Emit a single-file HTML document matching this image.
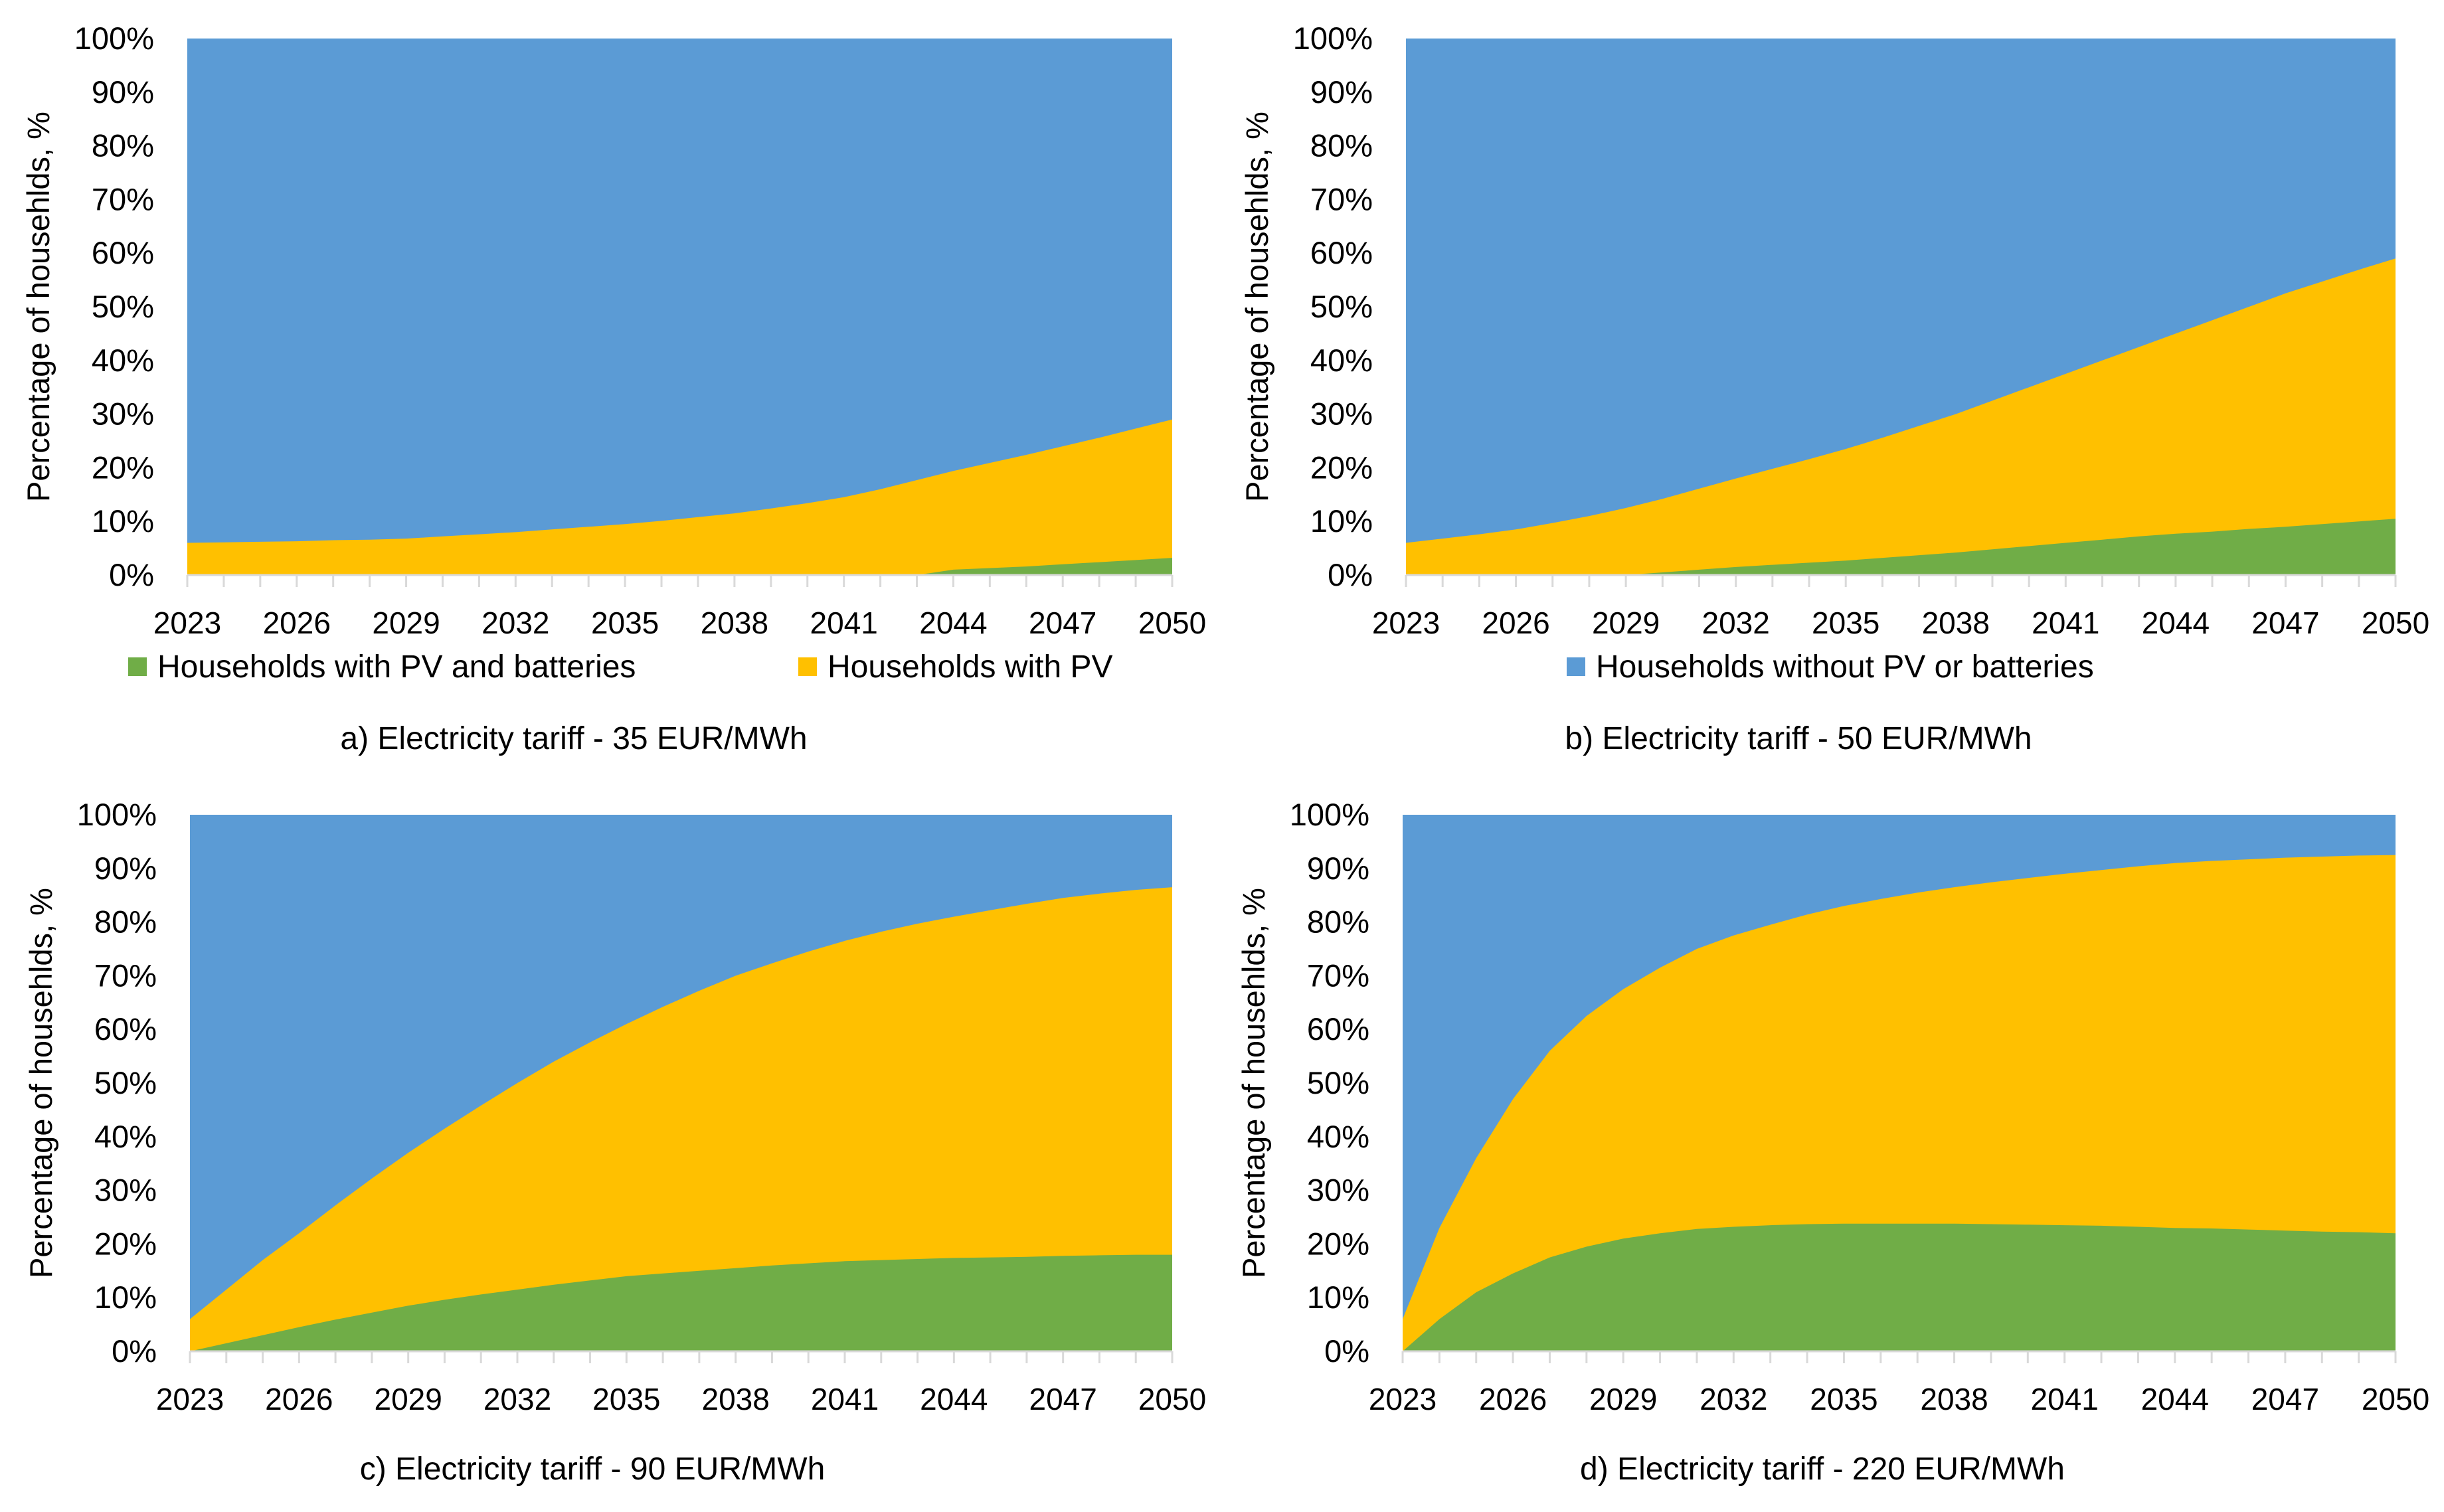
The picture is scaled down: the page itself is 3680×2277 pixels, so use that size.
<!DOCTYPE html>
<html><head><meta charset="utf-8">
<style>
html,body{margin:0;padding:0;background:#fff;}
svg{display:block;font-family:"Liberation Sans",sans-serif;}
</style></head>
<body>
<svg id="fig" width="3680" height="2277" viewBox="0 0 3680 2277" xmlns="http://www.w3.org/2000/svg"></svg>
<script>
const years = [2023,2024,2025,2026,2027,2028,2029,2030,2031,2032,2033,2034,2035,2036,2037,2038,2039,2040,2041,2042,2043,2044,2045,2046,2047,2048,2049,2050];
const yTicks = [0,10,20,30,40,50,60,70,80,90,100];
const yearLabels = [2023,2026,2029,2032,2035,2038,2041,2044,2047,2050];

const batteriesA = [0,0,0,0,0,0,0,0,0,0,0,0,0,0,0,0,0,0,0,0,0,1.0,1.3,1.6,2.0,2.4,2.8,3.2];
const pvA = [6,6.1,6.2,6.3,6.5,6.6,6.8,7.2,7.6,8.0,8.5,9.0,9.5,10.1,10.8,11.5,12.4,13.4,14.5,16,17.7,18.4,19.6,20.8,22,23.2,24.5,25.8];

const batteriesB = [0,0,0,0,0,0,0,0.5,1.0,1.5,1.9,2.3,2.7,3.2,3.7,4.2,4.8,5.4,6.0,6.6,7.2,7.7,8.1,8.6,9.0,9.5,10.0,10.5];
const pvB = [6,6.8,7.6,8.5,9.7,11,12.5,13.7,15.1,16.5,17.9,19.3,20.8,22.4,24.1,25.8,27.7,29.6,31.5,33.4,35.3,37.3,39.4,41.4,43.5,45.2,46.9,48.5];

const batteriesC = [0,1.5,3,4.5,5.9,7.2,8.5,9.6,10.6,11.5,12.4,13.2,14,14.5,15,15.5,16,16.4,16.8,17,17.2,17.4,17.5,17.6,17.8,17.9,18,18];
const pvC = [6,10,14,17.5,21.3,25,28.5,31.9,35.2,38.5,41.6,44.4,47,49.7,52.2,54.5,56.3,58.1,59.7,61.2,62.5,63.6,64.7,65.8,66.7,67.4,68,68.5];

const batteriesD = [0,6,11,14.5,17.5,19.5,21,22,22.8,23.2,23.5,23.7,23.8,23.8,23.8,23.8,23.7,23.6,23.5,23.4,23.2,23,22.9,22.7,22.5,22.3,22.2,22];
const pvD = [6,17,25,32.5,38.5,43,46.5,49.5,52.2,54.3,56,57.7,59.2,60.5,61.7,62.7,63.7,64.6,65.5,66.3,67.2,68,68.5,69,69.5,69.9,70.2,70.5];

const captions = ["a) Electricity tariff - 35 EUR/MWh","b) Electricity tariff - 50 EUR/MWh","c) Electricity tariff - 90 EUR/MWh","d) Electricity tariff - 220 EUR/MWh"];

const NS = "http://www.w3.org/2000/svg";
const svg = document.getElementById('fig');
function mk(tag, attrs, parent){
  const e = document.createElementNS(NS, tag);
  for (const k in attrs) e.setAttribute(k, attrs[k]);
  (parent||svg).appendChild(e);
  return e;
}
const BLUE="#5B9BD5", YEL="#FFC000", GRN="#70AD47";

const panels = [
  {id:'a', x0:282, x1:1765, y0:58, y1:866, bat:batteriesA, pv:pvA, cap:captions[0], capX:864, capY:1128},
  {id:'b', x0:2117, x1:3607, y0:58, y1:866, bat:batteriesB, pv:pvB, cap:captions[1], capX:2708, capY:1128},
  {id:'c', x0:286, x1:1765, y0:1227, y1:2035, bat:batteriesC, pv:pvC, cap:captions[2], capX:892, capY:2228},
  {id:'d', x0:2112, x1:3607, y0:1227, y1:2035, bat:batteriesD, pv:pvD, cap:captions[3], capX:2744, capY:2228}
];

panels.forEach(p=>{
  const g = mk('g',{});
  
  
  const xs = i => p.x0 + (p.x1-p.x0)*(years[i]-years[0])/(years[years.length-1]-years[0]);
  const ys = v => p.y1 - (p.y1-p.y0)*v/100;

  const blue = mk('rect',{x:p.x0,y:ys(100),width:p.x1-p.x0,height:ys(0)-ys(100),fill:BLUE},g);
  
  

  let d = 'M'+xs(0)+','+ys(0);
  years.forEach((y,i)=>{ d += ' L'+xs(i).toFixed(1)+','+ys(p.bat[i]+p.pv[i]).toFixed(1); });
  d += ' L'+xs(years.length-1)+','+ys(0)+' Z';
  const yel = mk('path',{d:d,fill:YEL},g);
  
  

  let d2 = 'M'+xs(0)+','+ys(0);
  years.forEach((y,i)=>{ d2 += ' L'+xs(i).toFixed(1)+','+ys(p.bat[i]).toFixed(1); });
  d2 += ' L'+xs(years.length-1)+','+ys(0)+' Z';
  const grn = mk('path',{d:d2,fill:GRN},g);
  
  

  const ax = mk('line',{x1:p.x0,y1:p.y1,x2:p.x1,y2:p.y1,stroke:'#d9d9d9','stroke-width':3},g);
  
  
  years.forEach((y,i)=>{
    const t = mk('line',{x1:xs(i),y1:p.y1,x2:xs(i),y2:p.y1+18,stroke:'#d9d9d9','stroke-width':3},g);
    
    
  });
  yearLabels.forEach(yr=>{
    const i = years.indexOf(yr);
    const t = mk('text',{x:xs(i),y:p.y1+88,'text-anchor':'middle','font-size':46,fill:'#000'},g);
    t.textContent = yr;
    
    
  });
  yTicks.forEach(v=>{
    const t = mk('text',{x:p.x0-50,y:ys(v)+16,'text-anchor':'end','font-size':47,fill:'#000'},g);
    t.textContent = v+'%';
    
    
  });
  const cy = (p.y0+p.y1)/2, tx = p.x0-208;
  const yt = mk('text',{x:tx,y:cy,'text-anchor':'middle','font-size':47,fill:'#000',transform:'rotate(-90 '+tx+' '+cy+')'},g);
  yt.textContent = 'Percentage of househlds, %';
  
  
  const cap = mk('text',{x:p.capX,y:p.capY,'text-anchor':'middle','font-size':48,fill:'#000'},g);
  cap.textContent = p.cap;
  
  
});

const legendItems = [
  {x:193, color:GRN, label:'Households with PV and batteries'},
  {x:1202, color:YEL, label:'Households with PV'},
  {x:2359, color:BLUE, label:'Households without PV or batteries'}
];
legendItems.forEach(it=>{
  const lg = mk('g',{});
  
  
  const r = mk('rect',{x:it.x,y:990,width:28,height:28,fill:it.color},lg);
  
  
  const t = mk('text',{x:it.x+44,y:1020,'font-size':48,fill:'#000'},lg);
  t.textContent = it.label;
  
  
});
</script>
</body></html>
